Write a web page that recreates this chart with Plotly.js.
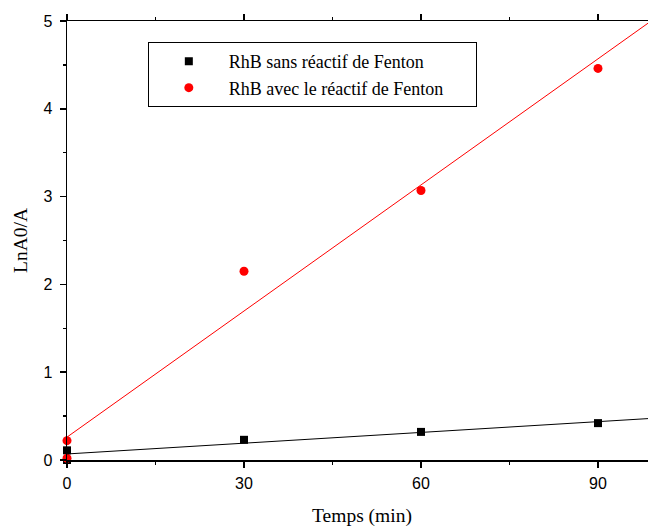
<!DOCTYPE html>
<html>
<head>
<meta charset="utf-8">
<script src="https://cdn.plot.ly/plotly-3.0.1.min.js"></script>
<style>
html,body{margin:0;padding:0;overflow:hidden;background:#fff;}
#chart{width:700px;height:527px;}
</style>
</head>
<body>
<div id="chart"></div>
<script>
// Data
const timeMin = [0, 0, 30, 60, 90];
const sansFenton = [0, 0.11, 0.23, 0.32, 0.42];
const avecFenton = [0.02, 0.22, 2.15, 3.07, 4.46];
const nameSans = "RhB sans réactif de Fenton";
const nameAvec = "RhB avec le réactif de Fenton";
const xTicks = [0, 30, 60, 90];
const yTicks = [0, 1, 2, 3, 4, 5];

function linFit(xs, ys) {
  const n = xs.length;
  const mx = xs.reduce((a, b) => a + b, 0) / n;
  const my = ys.reduce((a, b) => a + b, 0) / n;
  let sxy = 0, sxx = 0;
  for (let i = 0; i < n; i++) { sxy += (xs[i] - mx) * (ys[i] - my); sxx += (xs[i] - mx) ** 2; }
  const b = sxy / sxx;
  return { a: my - b * mx, b: b };
}
const fitX = [0, 100];
const fS = linFit(timeMin, sansFenton);
const fA = linFit(timeMin, avecFenton);

const traces = [
  { x: timeMin, y: sansFenton, mode: 'markers', type: 'scatter', name: nameSans,
    marker: { symbol: 'square', size: 8, color: '#000000' }, cliponaxis: false },
  { x: timeMin, y: avecFenton, mode: 'markers', type: 'scatter', name: nameAvec + '\u00a0\u00a0\u00a0\u00a0\u00a0\u00a0',
    marker: { symbol: 'circle', size: 9, color: '#ff0000' }, cliponaxis: false },
  { x: fitX, y: fitX.map(v => fS.a + fS.b * v), mode: 'lines', type: 'scatter', showlegend: false,
    line: { color: '#000000', width: 1 }, hoverinfo: 'skip' },
  { x: fitX, y: fitX.map(v => fA.a + fA.b * v), mode: 'lines', type: 'scatter', showlegend: false,
    line: { color: '#ff0000', width: 1 }, hoverinfo: 'skip' }
];

const layout = {
  width: 700, height: 527,
  margin: { l: 67, r: 43, t: 21, b: 67 },
  paper_bgcolor: '#ffffff', plot_bgcolor: '#ffffff',
  showlegend: true,
  legend: {
    x: 0.137, y: 0.952, xanchor: 'left', yanchor: 'top',
    bordercolor: '#000000', borderwidth: 1, bgcolor: '#ffffff',
    itemwidth: 70,
    font: { family: 'Liberation Serif, Times New Roman, serif', size: 18, color: '#000' },
    tracegroupgap: 0
  },
  xaxis: {
    range: [0, 100], tickvals: xTicks, ticktext: xTicks.map(String),
    showgrid: false, zeroline: false,
    showline: true, linecolor: '#000', linewidth: 1.5, mirror: 'ticks',
    ticks: 'outside', ticklen: 6, tickwidth: 1.5, tickcolor: '#000',
    ticklabelstandoff: 2,
    minor: { dtick: 15, ticks: 'outside', ticklen: 3, tickwidth: 1.5, tickcolor: '#000', showgrid: false },
    tickfont: { family: 'Liberation Sans, Arial, sans-serif', size: 16, color: '#000' },
    title: { text: 'Temps (min)', standoff: 20,
      font: { family: 'Liberation Serif, Times New Roman, serif', size: 19.5, color: '#000' } }
  },
  yaxis: {
    range: [0, 5], tickvals: yTicks, ticktext: yTicks.map(String),
    showgrid: false, zeroline: false,
    showline: true, linecolor: '#000', linewidth: 1.5, mirror: 'ticks',
    ticks: 'outside', ticklen: 6, tickwidth: 1.5, tickcolor: '#000',
    ticklabelstandoff: 4,
    minor: { dtick: 0.5, ticks: 'outside', ticklen: 3, tickwidth: 1.5, tickcolor: '#000', showgrid: false },
    tickfont: { family: 'Liberation Sans, Arial, sans-serif', size: 16, color: '#000' },
    title: { text: 'LnA0/A', standoff: 10,
      font: { family: 'Liberation Serif, Times New Roman, serif', size: 19.5, color: '#000' } }
  }
};

Plotly.newPlot('chart', traces, layout, { displayModeBar: false, staticPlot: true });
</script>
</body>
</html>
